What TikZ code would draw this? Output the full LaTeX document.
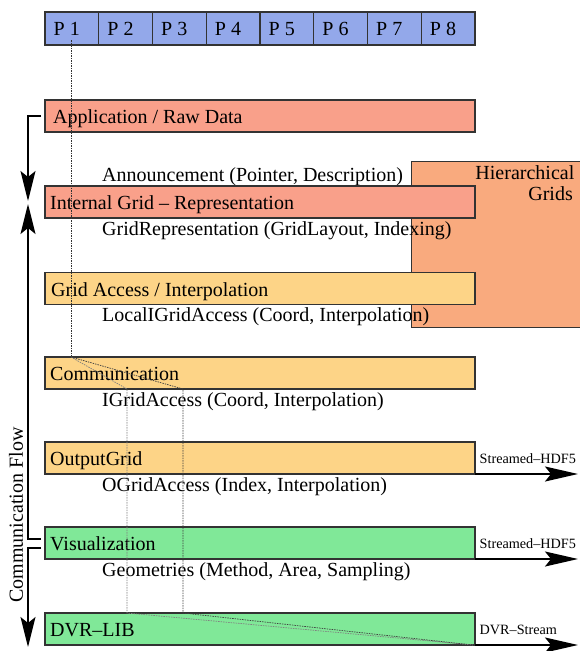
\documentclass[tikz,border=0pt]{standalone}
\usepackage{fontspec}
\setmainfont{Liberation Serif}
\usetikzlibrary{arrows.meta}
\definecolor{pblue}{HTML}{93A8EA}
\definecolor{salmon}{HTML}{F9A08A}
\definecolor{lorange}{HTML}{FDD487}
\definecolor{lgreen}{HTML}{80E898}
\definecolor{hier}{HTML}{F9AA7E}
\definecolor{edgec}{HTML}{333333}
\begin{document}
\begin{tikzpicture}[x=1pt,y=-1pt,
  layerbox/.style={draw=edgec, line width=1.1pt, minimum width=430pt, minimum height=32pt, anchor=north west, inner sep=0pt, outer sep=0pt},
  pcell/.style={draw=edgec, line width=1.1pt, fill=pblue, minimum width=53.75pt, minimum height=33pt, anchor=north west, inner sep=0pt, outer sep=0pt},
  bigfont/.style={font=\rmfamily\fontsize{20}{22}\selectfont},
  lbl/.style={anchor=base west, inner sep=0pt, bigfont},
  smalllbl/.style={anchor=base west, inner sep=0pt, font=\rmfamily\fontsize{14.2}{16}\selectfont},
  flowline/.style={line width=1.6pt, -{Stealth[length=30pt,width=15pt,inset=6pt]}},
  outarrow/.style={line width=1.6pt, -{Stealth[length=33pt,width=15pt,inset=6pt]}},
  dotline/.style={line width=0.7pt, dash pattern=on 1.5pt off 1pt},
]
\useasboundingbox (0,0) rectangle (579,651);

% processor row
\foreach \i in {1,...,8} {
  \node[pcell] (P\i) at ({45+(\i-1)*53.75},12) {};
  \node[lbl] (Pt\i) at ({53.5+(\i-1)*53.75},35) {P \i};
}

% hierarchical grids background box
\node[draw=edgec, line width=1.1pt, fill=hier, anchor=north west, minimum width=200pt, minimum height=166pt, inner sep=0pt] (hg) at (411,161) {};
\node[anchor=base east, inner sep=0pt, bigfont] (hgt1) at (574.5,179) {Hierarchical};
\node[anchor=base east, inner sep=0pt, bigfont] (hgt2) at (573,200) {Grids};

% interface labels
\node[lbl] (s1) at (102,181) {Announcement (Pointer, Description)};
\node[lbl] (s2) at (102,235) {GridRepresentation (GridLayout, Indexing)};
\node[lbl] (s3) at (102,321.5) {LocalIGridAccess (Coord, Interpolation)};
\node[lbl] (s4) at (102,406) {IGridAccess (Coord, Interpolation)};
\node[lbl] (s5) at (102,491) {OGridAccess (Index, Interpolation)};
\node[lbl] (s6) at (102,576.5) {Geometries (Method, Area, Sampling)};

% layer boxes
\node[layerbox, fill=salmon] (app) at (45,100) {};
\node[layerbox, fill=salmon] (igr) at (45,186) {};
\node[layerbox, fill=lorange] (ga) at (45,272.5) {};
\node[layerbox, fill=lorange] (comm) at (45,357) {};
\node[layerbox, fill=lorange] (og) at (45,442) {};
\node[layerbox, fill=lgreen] (vis) at (45,527) {};
\node[layerbox, fill=lgreen] (dvr) at (45,613) {};

\node[lbl] (appt) at (53,123.5) {Application / Raw Data};
\node[lbl] (igrt) at (50,209.5) {Internal Grid – Representation};
\node[lbl] (gat) at (51,296) {Grid Access / Interpolation};
\node[lbl] (commt) at (50,380.5) {Communication};
\node[lbl] (ogt) at (50,465.5) {OutputGrid};
\node[lbl] (vist) at (50,550.5) {Visualization};
\node[lbl] (dvrt) at (50,636.5) {DVR–LIB};

% dotted process lines
\coordinate (d0) at (71,40);
\coordinate (cs) at (71,357);
\coordinate (c1) at (127,389);
\coordinate (c2) at (183,389);
\coordinate (e1) at (127,613);
\coordinate (e2) at (183,613);
\coordinate (f) at (473,645);
\draw[dotline, draw=black!80] (d0) -- (cs);
\draw[dotline, draw=black!50] (cs) -- (c1) -- (e1) -- (f);
\draw[dotline, draw=black!75] (cs) -- (c2) -- (e2) -- (f);

% output streams
\coordinate (ogE) at (578,474);
\coordinate (visE) at (578,559);
\coordinate (dvrE) at (578,645);
\draw[outarrow] (og.south east) -- (ogE);
\draw[outarrow] (vis.south east) -- (visE);
\draw[outarrow] (dvr.south east) -- (dvrE);
\node[smalllbl] (ogl) at (479.5,463) {Streamed–HDF5};
\node[smalllbl] (visl) at (479.5,548) {Streamed–HDF5};
\node[smalllbl] (dvrl) at (479.5,634) {DVR–Stream};

% communication flow arrows
\coordinate (tip1) at (28,201);
\coordinate (tip2) at (28,204);
\coordinate (tip3) at (28,647);
\draw[flowline] ([xshift=-4pt]app.west) -| (tip1);
\draw[flowline] ([xshift=-4pt,yshift=4pt]vis.west) -| (tip2);
\draw[flowline] ([xshift=-4pt,yshift=-5pt]vis.west) -| (tip3);
\node[rotate=90, inner sep=0pt, bigfont] (cf) at (16,515) {Communication Flow};
\end{tikzpicture}
\end{document}
